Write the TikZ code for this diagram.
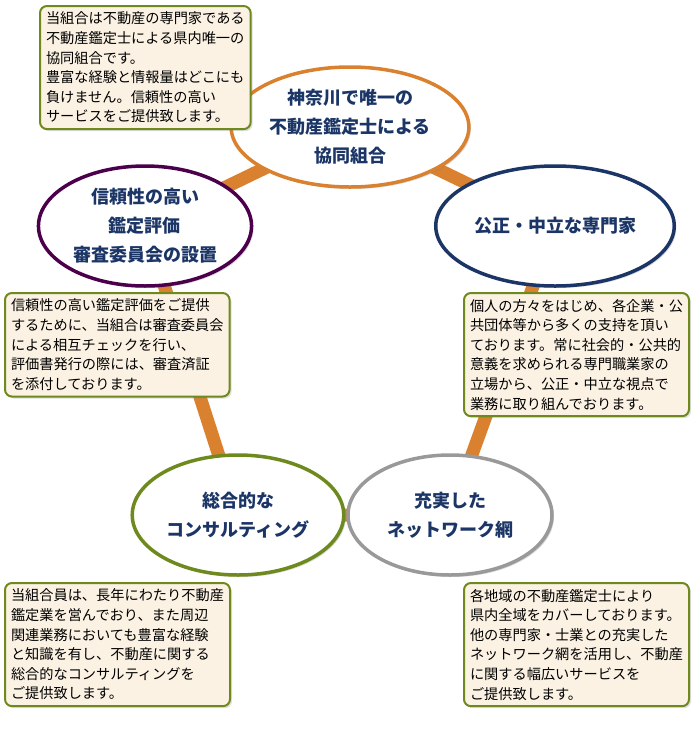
\documentclass[tikz,border=0pt]{standalone}
\usepackage{fontspec}
\newfontfamily\jpfont{Noto Sans CJK JP}
\usetikzlibrary{positioning,shadows,shapes.geometric}
\definecolor{bandorange}{HTML}{D9812E}
\definecolor{titlenavy}{HTML}{1B3566}
\definecolor{boxolive}{HTML}{6E8A1E}
\definecolor{boxcream}{HTML}{FBF2E4}
\begin{document}
\begin{tikzpicture}[x=1pt,y=-1pt,font=\jpfont]

    % --- styles ---
    \tikzset{
        topic/.style={ellipse,draw=#1,line width=3.5pt,fill=white,minimum width=204pt,minimum height=120pt,
            align=center,text=titlenavy,font=\jpfont\bfseries\fontsize{18}{29}\selectfont,
            drop shadow={shadow xshift=2pt,shadow yshift=-2pt,opacity=0.3}},
        infobox/.style={draw=boxolive,line width=2pt,fill=boxcream,rounded corners=7pt,anchor=north west,
            align=left,inner sep=6pt,font=\jpfont\fontsize{14.2}{19.6}\selectfont,
            drop shadow={shadow xshift=2pt,shadow yshift=-2pt,opacity=0.25}},
    }
    \useasboundingbox (0,0) rectangle (698,729);

    % --- band behind ---
    \coordinate (c1) at (350,127);
    \coordinate (c2) at (555,226);
    \coordinate (c3) at (450,515);
    \coordinate (c4) at (238,515);
    \coordinate (c5) at (145,226);
    \draw[bandorange,line width=13pt,line join=round] (c1) -- (c2) -- (c3) -- (c4) -- (c5) -- cycle;

    % --- topics ---
    \node[topic=bandorange] (kanagawa) at (c1) {神奈川で唯一の\\不動産鑑定士による\\協同組合};
    \node[topic=titlenavy] (kousei) at (c2) {公正・中立な専門家};
    \node[topic=gray!80] (network) at (c3) {充実した\\ネットワーク網};
    \node[topic=boxolive] (sougou) at (c4) {総合的な\\コンサルティング};
    \node[topic=violet!60!black, minimum width=208pt] (shinrai) at (c5) {信頼性の高い\\鑑定評価\\審査委員会の設置};

    % --- info boxes ---
    \node[infobox] (boxtop) at (39,5) {当組合は不動産の専門家である\\不動産鑑定士による県内唯一の\\協同組合です。\\豊富な経験と情報量はどこにも\\負けません。信頼性の高い\\サービスをご提供致します。};
    \node[infobox] (boxright) at (463,292) {個人の方々をはじめ、各企業・公\\共団体等から多くの支持を頂い\\ております。常に社会的・公共的\\意義を求められる専門職業家の\\立場から、公正・中立な視点で\\業務に取り組んでおります。};
    \node[infobox] (boxleft) at (4,292) {信頼性の高い鑑定評価をご提供\\するために、当組合は審査委員会\\による相互チェックを行い、\\評価書発行の際には、審査済証\\を添付しております。};
    \node[infobox] (boxbl) at (4,582) {当組合員は、長年にわたり不動産\\鑑定業を営んでおり、また周辺\\関連業務においても豊富な経験\\と知識を有し、不動産に関する\\総合的なコンサルティングを\\ご提供致します。};
    \node[infobox] (boxbr) at (463,582) {各地域の不動産鑑定士により\\県内全域をカバーしております。\\他の専門家・士業との充実した\\ネットワーク網を活用し、不動産\\に関する幅広いサービスを\\ご提供致します。};

\end{tikzpicture}
\end{document}
